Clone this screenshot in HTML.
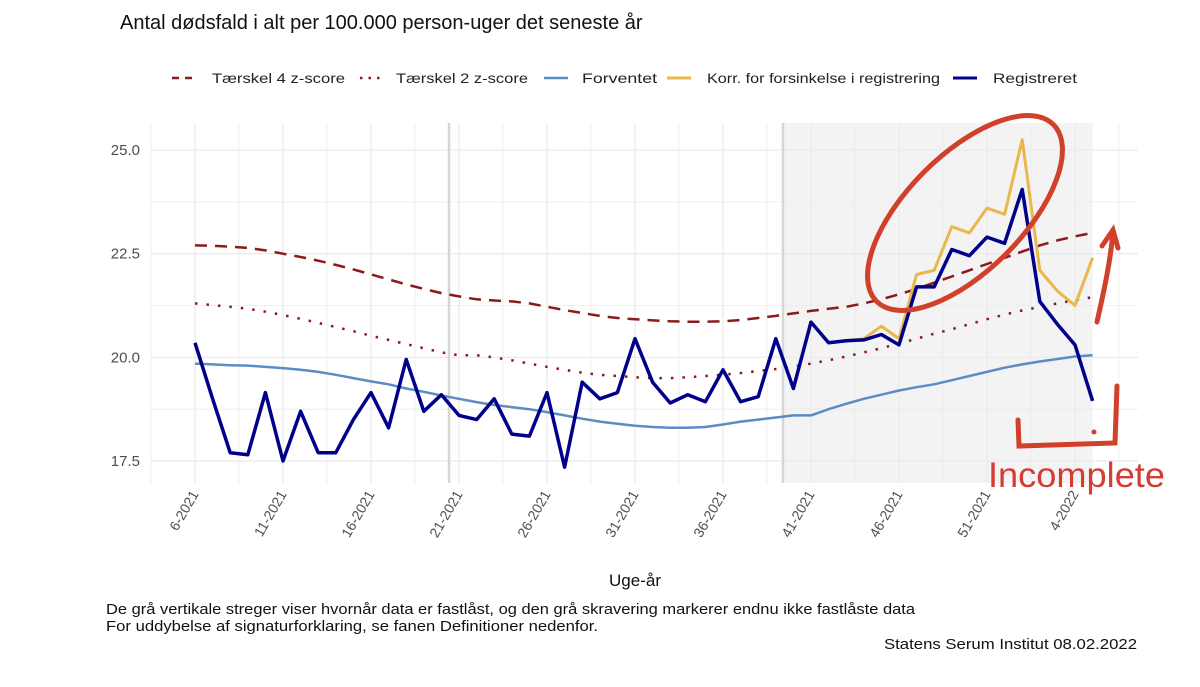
<!DOCTYPE html>
<html><head><meta charset="utf-8"><style>
html,body{margin:0;padding:0;background:#fff;width:1200px;height:687px;overflow:hidden}
svg{display:block;font-family:"Liberation Sans",sans-serif}
</style></head><body>
<svg id="chart" width="1200" height="687" viewBox="0 0 1200 687" xmlns="http://www.w3.org/2000/svg">
<text x="120" y="29" font-size="20" fill="#111">Antal dødsfald i alt per 100.000 person-uger det seneste år</text>
<g font-size="14" fill="#222">
 <g><line x1="172" y1="78" x2="196" y2="78" stroke="#8b1a1a" stroke-width="2.5" stroke-dasharray="7,6"/><text x="212" y="83" textLength="133" lengthAdjust="spacingAndGlyphs">Tærskel 4 z-score</text></g>
 <g><line x1="360" y1="78" x2="384" y2="78" stroke="#8b1a1a" stroke-width="2.5" stroke-dasharray="2.5,6"/><text x="396" y="83" textLength="132" lengthAdjust="spacingAndGlyphs">Tærskel 2 z-score</text></g>
 <g><line x1="544" y1="78" x2="568" y2="78" stroke="#5b8cc3" stroke-width="2.5"/><text x="582" y="83" textLength="75" lengthAdjust="spacingAndGlyphs">Forventet</text></g>
 <g><line x1="667" y1="78" x2="691" y2="78" stroke="#e8b84a" stroke-width="3"/><text x="707" y="83" textLength="233" lengthAdjust="spacingAndGlyphs">Korr. for forsinkelse i registrering</text></g>
 <g><line x1="953" y1="78" x2="977" y2="78" stroke="#00008b" stroke-width="3"/><text x="993" y="83" textLength="84" lengthAdjust="spacingAndGlyphs">Registreret</text></g>
</g>
<g id="plot"></g>
<text x="635" y="586" font-size="17" text-anchor="middle" fill="#111">Uge-år</text>
<text x="106" y="614" font-size="15" fill="#111" textLength="809" lengthAdjust="spacingAndGlyphs">De grå vertikale streger viser hvornår data er fastlåst, og den grå skravering markerer endnu ikke fastlåste data</text>
<text x="106" y="631" font-size="15" fill="#111" textLength="492" lengthAdjust="spacingAndGlyphs">For uddybelse af signaturforklaring, se fanen Definitioner nedenfor.</text>
<text x="884" y="649" font-size="15" fill="#111" textLength="253" lengthAdjust="spacingAndGlyphs">Statens Serum Institut  08.02.2022</text>
<g fill="none" stroke="#d0402a" stroke-width="5" stroke-linecap="round">
 <ellipse cx="965" cy="213" rx="125" ry="58" transform="rotate(-45 965 213)"/>
 <path d="M1097 322 C1103 295 1110 265 1113 232 M1102 246 L1113 230 L1118 248"/>
 <path d="M1018 420 L1019 446 L1115 443 L1117 386"/>
 <circle cx="1094" cy="432" r="2.5" fill="#d0402a" stroke="none"/>
 <text x="988" y="487" font-size="35" fill="#d63a35" stroke="none" textLength="177" lengthAdjust="spacingAndGlyphs">Incomplete</text>
</g>
</svg>
<script>
const weekLabels=["6-2021","11-2021","16-2021","21-2021","26-2021","31-2021","36-2021","41-2021","46-2021","51-2021","4-2022"];
const yTicks=[17.5,20.0,22.5,25.0];
const registered=[20.35,19.0,17.7,17.65,19.15,17.5,18.7,17.7,17.7,18.5,19.15,18.3,19.95,18.7,19.1,18.6,18.5,19.0,18.15,18.1,19.15,17.35,19.4,19.0,19.15,20.45,19.4,18.9,19.1,18.93,19.7,18.93,19.05,20.45,19.25,20.85,20.35,20.4,20.42,20.55,20.3,21.7,21.7,22.6,22.45,22.9,22.75,24.05,21.35,20.8,20.3,18.95];
const corrected=[20.35,20.4,20.45,20.75,20.45,22.0,22.1,23.15,23.0,23.6,23.45,25.25,22.1,21.6,21.25,22.4];
const correctedStart=36;
const expected=[19.85,19.83,19.81,19.8,19.77,19.74,19.7,19.65,19.58,19.5,19.42,19.35,19.25,19.17,19.08,19.0,18.92,18.85,18.8,18.75,18.68,18.6,18.52,18.45,18.4,18.35,18.32,18.3,18.3,18.32,18.38,18.45,18.5,18.55,18.6,18.6,18.75,18.88,19.0,19.1,19.2,19.28,19.35,19.45,19.55,19.65,19.75,19.83,19.9,19.96,20.02,20.05];
const thr4=[22.7,22.69,22.67,22.64,22.58,22.5,22.42,22.33,22.23,22.12,22.0,21.88,21.76,21.65,21.55,21.47,21.4,21.37,21.35,21.3,21.22,21.14,21.07,21.0,20.95,20.92,20.89,20.87,20.86,20.86,20.87,20.9,20.95,21.0,21.06,21.12,21.17,21.22,21.3,21.4,21.52,21.65,21.8,21.95,22.1,22.25,22.4,22.55,22.7,22.82,22.92,23.0];
const thr2=[21.3,21.26,21.22,21.17,21.1,21.02,20.93,20.83,20.73,20.63,20.52,20.42,20.32,20.22,20.12,20.05,20.05,20.0,19.93,19.85,19.77,19.7,19.63,19.58,19.55,19.52,19.5,19.5,19.52,19.55,19.58,19.62,19.67,19.72,19.78,19.85,19.93,20.02,20.12,20.22,20.33,20.45,20.57,20.68,20.8,20.92,21.03,21.13,21.22,21.3,21.38,21.45];

const NS="http://www.w3.org/2000/svg";
const plot=document.getElementById('plot');
const X0=195,DX=17.6,PL=150,PR=1138,PT=123,PB=483;
const x=i=>X0+i*DX;
const y=v=>150+(25-v)*41.47;
function mk(tag,attrs){const e=document.createElementNS(NS,tag);for(const k in attrs)e.setAttribute(k,attrs[k]);plot.appendChild(e);return e;}
let sh=mk('rect',{x:783,y:PT,width:x(51)-783,height:PB-PT,fill:'#f3f3f3'});


for(let v=17.5;v<=25.01;v+=1.25){const g=mk('line',{x1:PL,x2:PR,y1:y(v),y2:y(v),stroke:'#ebebeb','stroke-width':(v*4)%10==0?1.3:0.8});

}
for(let i=-2.5;i<=53;i+=2.5){const g=mk('line',{x1:x(i),x2:x(i),y1:PT,y2:PB,stroke:'#ebebeb','stroke-width':(i%5==0)?1.3:0.8});

}
[449,783].forEach(px=>{const l=mk('line',{x1:px,x2:px,y1:PT,y2:PB,stroke:'#d6d6d6','stroke-width':2.5});

});
yTicks.forEach(v=>{const t=mk('text',{x:140,y:y(v)+5,'font-size':15,'text-anchor':'end',fill:'#4d4d4d'});t.textContent=v.toFixed(1);

});
weekLabels.forEach((s,k)=>{const px=x(k*5)+4,py=494;const t=mk('text',{x:px,y:py,'font-size':14,'text-anchor':'end',fill:'#4d4d4d',transform:`rotate(-60 ${px} ${py})`});t.textContent=s;

});
function line(arr,start,style,name){const pts=arr.map((v,i)=>x(i+start).toFixed(1)+','+y(v).toFixed(1)).join(' ');
const p=mk('polyline',Object.assign({points:pts,fill:'none','stroke-linejoin':'round'},style));

}
line(thr4,0,{stroke:'#8b1a1a','stroke-width':2.5,'stroke-dasharray':'12,8'},'threshold-4-line');
line(thr2,0,{stroke:'#8b1a1a','stroke-width':2.5,'stroke-dasharray':'2.5,9'},'threshold-2-line');
line(expected,0,{stroke:'#5b8cc3','stroke-width':2.5},'expected-line');
line(corrected,correctedStart,{stroke:'#e8b84a','stroke-width':3},'corrected-line');
line(registered,0,{stroke:'#00008b','stroke-width':3.5},'registered-line');
</script>
</body></html>
